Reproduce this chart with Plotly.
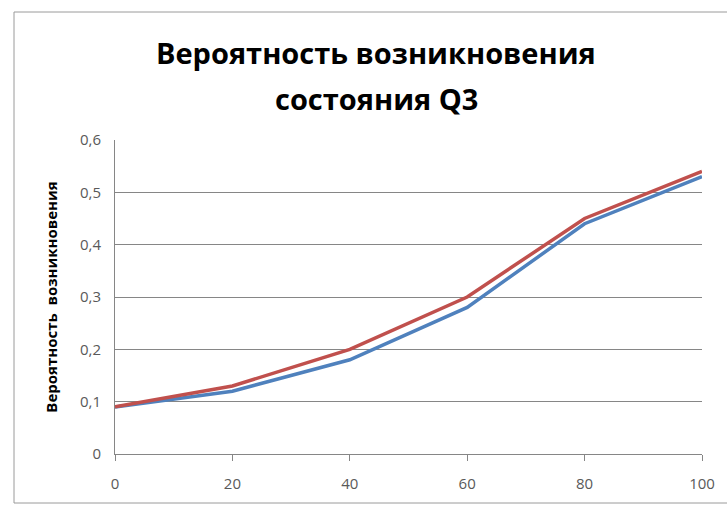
import plotly.graph_objects as go

x_vals = [0, 20, 40, 60, 80, 100]
blue_vals = [0.09, 0.12, 0.18, 0.28, 0.44, 0.53]
red_vals = [0.09, 0.13, 0.20, 0.30, 0.45, 0.54]
y_ticks = [0, 0.1, 0.2, 0.3, 0.4, 0.5, 0.6]
y_tick_text = ["0", "0,1", "0,2", "0,3", "0,4", "0,5", "0,6"]
title_lines = ["Вероятность возникновения", "состояния Q3"]

W, H = 727, 505
L, R, T, B = 115, 25, 140, 51
pw = W - L - R
ph = H - T - B

def px(xp):
    return (xp - L) / pw

def py(yp):
    return (H - B - yp) / ph

fig = go.Figure()
fig.add_trace(go.Scatter(x=x_vals, y=blue_vals, mode="lines",
                         line=dict(color="#4F81BD", width=3.5), showlegend=False))
fig.add_trace(go.Scatter(x=x_vals, y=red_vals, mode="lines",
                         line=dict(color="#C0504D", width=3.5), showlegend=False))

fig.update_layout(
    width=W, height=H,
    margin=dict(l=L, r=R, t=T, b=B),
    paper_bgcolor="white", plot_bgcolor="white",
    font=dict(family="Open Sans, Liberation Sans, sans-serif", color="#595959", size=15),
    xaxis=dict(range=[0, 100], tickvals=x_vals, ticks="outside", ticklen=6,
               tickcolor="#868686", showline=True, linecolor="#868686", linewidth=1,
               showgrid=False, zeroline=False, ticklabelstandoff=10,
               tickfont=dict(size=15, color="#595959")),
    yaxis=dict(range=[0, 0.6], tickvals=y_ticks, ticktext=y_tick_text,
               showline=True, linecolor="#868686", linewidth=1,
               showgrid=True, gridcolor="#868686", gridwidth=1, zeroline=False,
               ticks="", ticklabelstandoff=10,
               title=dict(text="<b>Вероятность  возникновения</b>", standoff=18,
                          font=dict(size=15, color="#000000")),
               tickfont=dict(size=15, color="#595959")),
)

for line, ypix in zip(title_lines, [53, 98]):
    fig.add_annotation(text="<b>" + line + "</b>", xref="paper", yref="paper",
                       x=px(376), y=py(ypix), xanchor="center", yanchor="middle",
                       showarrow=False,
                       font=dict(size=29, color="#000000", family="Open Sans, sans-serif"))

fig.add_shape(type="rect", xref="paper", yref="paper",
              x0=px(14), x1=px(740), y0=py(503), y1=py(12),
              line=dict(color="#9a9a9a", width=1), layer="below")

fig.write_html("out.html")
